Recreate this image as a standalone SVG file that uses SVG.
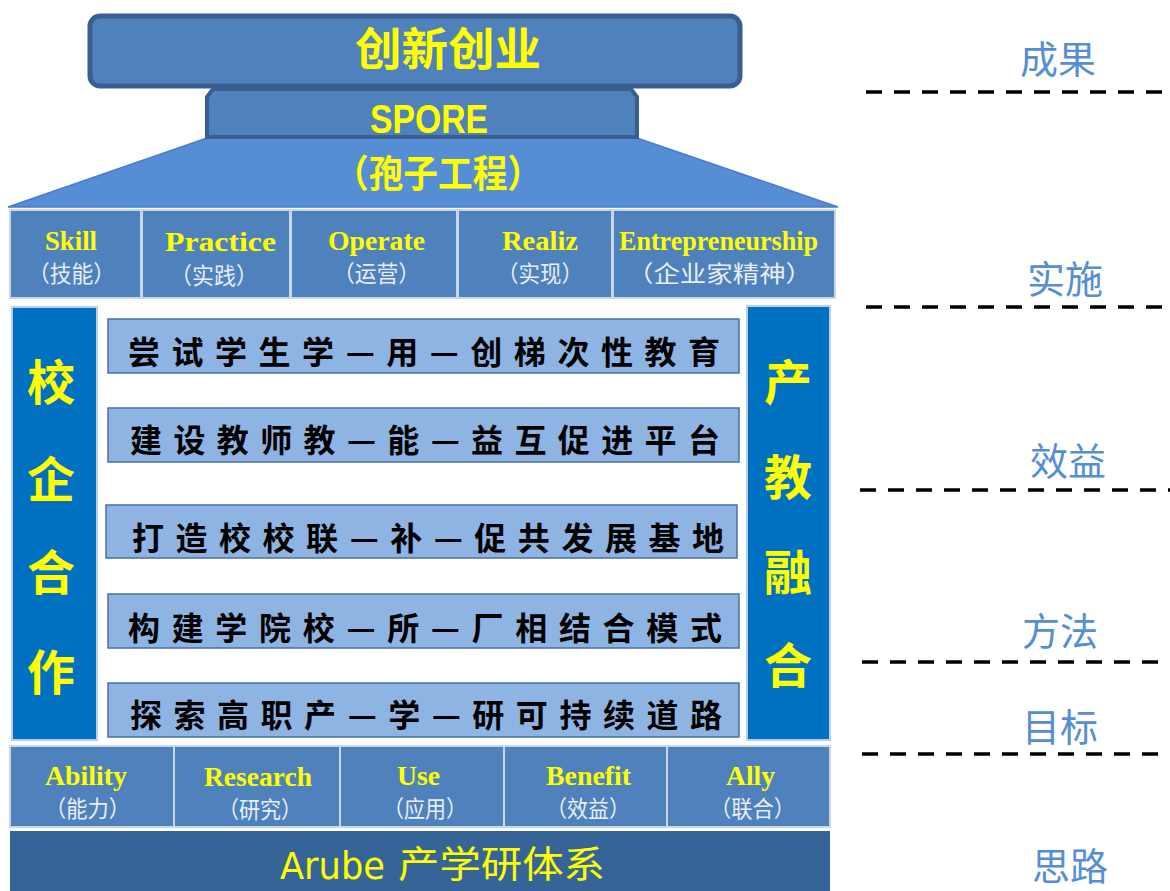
<svg xmlns="http://www.w3.org/2000/svg" width="1170" height="891" viewBox="0 0 1170 891">
<style>
.cjk{font-family:"Noto Sans CJK SC","Noto Sans",sans-serif}
.yel{fill:#ffff00}
.en{font-family:"Liberation Serif",serif;font-weight:bold;font-size:27px;fill:#ffff00;text-anchor:start}
.zh{font-family:"Noto Sans CJK SC",sans-serif;font-size:23px;fill:#e8eef5;text-anchor:start}
.cell{fill:#4f81bd;stroke:#c9d6e8;stroke-width:2}
.mid{fill:#8eb4e3;stroke:#4a6fa5;stroke-width:1.5}
.midt{font-family:"Noto Sans CJK SC",sans-serif;font-size:32px;font-weight:bold;fill:#000;text-anchor:start}
.bar{fill:#0070c0;stroke:#b8cfe6;stroke-width:2}
.bart{font-family:"Noto Sans CJK SC",sans-serif;font-size:48px;font-weight:bold;fill:#ffff00;text-anchor:middle}
.side{font-family:"Noto Sans CJK SC",sans-serif;font-size:38px;fill:#558ed5;text-anchor:middle}
.dash{stroke:#000;stroke-width:3.5;stroke-dasharray:16 12;fill:none}
</style>
<rect width="1170" height="891" fill="#fff"/>

<g id="top">
<rect x="90" y="16" width="650" height="70" rx="10" fill="#4f81bd" stroke="#3a5f8e" stroke-width="5"/>
<text x="355" y="66" class="cjk yel" font-size="45" font-weight="bold" textLength="186" lengthAdjust="spacingAndGlyphs">创新创业</text>
</g>

<g id="trap">
<polygon points="207,138 637,138 838,207 8,207" fill="#558ed5" stroke="#4a7ec4" stroke-width="1.5"/>
<text x="334" y="187" class="cjk yel" font-size="38" font-weight="bold" textLength="208" lengthAdjust="spacingAndGlyphs">（孢子工程）</text>
</g>

<g id="spore">
<polygon points="213,89 631,89 637,97 637,137 207,137 207,97" fill="#4f81bd" stroke="#3a5f8e" stroke-width="4"/>
<text x="370" y="133" font-family="Liberation Sans,sans-serif" font-weight="bold" font-size="40" fill="#ffff00" textLength="118" lengthAdjust="spacingAndGlyphs">SPORE</text>
</g>

<g id="top-row">
<rect class="cell" x="10" y="210" width="131" height="88"/>
<rect class="cell" x="142" y="210" width="148" height="88"/>
<rect class="cell" x="291" y="210" width="166" height="88"/>
<rect class="cell" x="458" y="210" width="154" height="88"/>
<rect class="cell" x="613" y="210" width="222" height="88"/>
<text class="en" x="45" y="250" textLength="52" lengthAdjust="spacingAndGlyphs">Skill</text>
<text class="zh" x="28" y="282" textLength="87" lengthAdjust="spacingAndGlyphs">（技能）</text>
<text class="en" x="165" y="251" font-size="29" textLength="111" lengthAdjust="spacingAndGlyphs">Practice</text>
<text class="zh" x="170" y="284" textLength="88" lengthAdjust="spacingAndGlyphs">（实践）</text>
<text class="en" x="328" y="250" textLength="97" lengthAdjust="spacingAndGlyphs">Operate</text>
<text class="zh" x="333" y="282" textLength="87" lengthAdjust="spacingAndGlyphs">（运营）</text>
<text class="en" x="502" y="250" textLength="76" lengthAdjust="spacingAndGlyphs">Realiz</text>
<text class="zh" x="497" y="282" textLength="86" lengthAdjust="spacingAndGlyphs">（实现）</text>
<text class="en" x="619" y="250" textLength="199" lengthAdjust="spacingAndGlyphs">Entrepreneurship</text>
<text class="zh" x="627" y="282" textLength="185" lengthAdjust="spacingAndGlyphs">（企业家精神）</text>
</g>

<g id="left-bar">
<rect class="bar" x="12" y="307" width="85" height="433"/>
<text class="bart" x="51" y="400">校</text>
<text class="bart" x="51" y="497">企</text>
<text class="bart" x="51" y="590">合</text>
<text class="bart" x="51" y="690">作</text>
</g>

<g id="right-bar">
<rect class="bar" x="747" y="306" width="83" height="434"/>
<text class="bart" x="788" y="400">产</text>
<text class="bart" x="788" y="495">教</text>
<text class="bart" x="788" y="590">融</text>
<text class="bart" x="788" y="683">合</text>
</g>

<g id="m1">
<rect class="mid" x="108" y="319" width="631" height="54"/>
<text class="midt" x="128" y="364" textLength="592" lengthAdjust="spacing">尝试学生学—用—创梯次性教育</text>
</g>
<g id="m2">
<rect class="mid" x="108" y="408" width="631" height="54"/>
<text class="midt" x="130" y="452" textLength="590" lengthAdjust="spacing">建设教师教—能—益互促进平台</text>
</g>
<g id="m3">
<rect class="mid" x="106" y="505" width="631" height="53"/>
<text class="midt" x="132" y="550" textLength="592" lengthAdjust="spacing">打造校校联—补—促共发展基地</text>
</g>
<g id="m4">
<rect class="mid" x="108" y="594" width="631" height="54"/>
<text class="midt" x="128" y="640" textLength="594" lengthAdjust="spacing">构建学院校—所—厂相结合模式</text>
</g>
<g id="m5">
<rect class="mid" x="108" y="683" width="631" height="54"/>
<text class="midt" x="130" y="727" textLength="592" lengthAdjust="spacing">探索高职产—学—研可持续道路</text>
</g>

<g id="bottom-row">
<rect class="cell" x="10" y="746" width="164" height="81" stroke="#3e6a9e" stroke-width="1"/>
<rect class="cell" x="174" y="746" width="166" height="81" stroke="#3e6a9e" stroke-width="1"/>
<rect class="cell" x="340" y="746" width="164" height="81" stroke="#c9d6e8" stroke-width="1"/>
<rect class="cell" x="504" y="746" width="163" height="81" stroke="#3e6a9e" stroke-width="1"/>
<rect class="cell" x="667" y="746" width="163" height="81" stroke="#3e6a9e" stroke-width="1"/>
<text class="en" x="45" y="785" textLength="82" lengthAdjust="spacingAndGlyphs">Ability</text>
<text class="zh" x="45" y="817" textLength="85" lengthAdjust="spacingAndGlyphs">（能力）</text>
<text class="en" x="204" y="786" textLength="108" lengthAdjust="spacingAndGlyphs">Research</text>
<text class="zh" x="218" y="818" textLength="84" lengthAdjust="spacingAndGlyphs">（研究）</text>
<text class="en" x="397" y="785" textLength="43" lengthAdjust="spacingAndGlyphs">Use</text>
<text class="zh" x="383" y="817" textLength="84" lengthAdjust="spacingAndGlyphs">（应用）</text>
<text class="en" x="546" y="785" textLength="85" lengthAdjust="spacingAndGlyphs">Benefit</text>
<text class="zh" x="546" y="817" textLength="84" lengthAdjust="spacingAndGlyphs">（效益）</text>
<text class="en" x="726" y="785" textLength="49" lengthAdjust="spacingAndGlyphs">Ally</text>
<text class="zh" x="710" y="817" textLength="85" lengthAdjust="spacingAndGlyphs">（联合）</text>
</g>

<g id="base">
<rect x="10" y="831" width="820" height="62" fill="#356597"/>
<text x="280" y="879" font-family="DejaVu Sans,sans-serif" font-size="37" fill="#ffff00" textLength="105" lengthAdjust="spacingAndGlyphs">Arube</text>
<text x="398" y="878" class="cjk" font-size="37" fill="#ffff00" textLength="207" lengthAdjust="spacingAndGlyphs">产学研体系</text>
</g>

<g id="side-labels">
<text class="side" x="1058" y="73">成果</text>
<text class="side" x="1065" y="293">实施</text>
<text class="side" x="1068" y="475">效益</text>
<text class="side" x="1060" y="645">方法</text>
<text class="side" x="1060" y="741">目标</text>
<text class="side" x="1070" y="880">思路</text>
</g>

<g id="connectors">
<line class="dash" x1="866" y1="92" x2="1170" y2="92"/>
<line class="dash" x1="866" y1="307" x2="1170" y2="307"/>
<line class="dash" x1="860" y1="490" x2="1170" y2="490"/>
<line class="dash" x1="862" y1="662" x2="1170" y2="662"/>
<line class="dash" x1="862" y1="754" x2="1170" y2="754"/>
</g>
</svg>
